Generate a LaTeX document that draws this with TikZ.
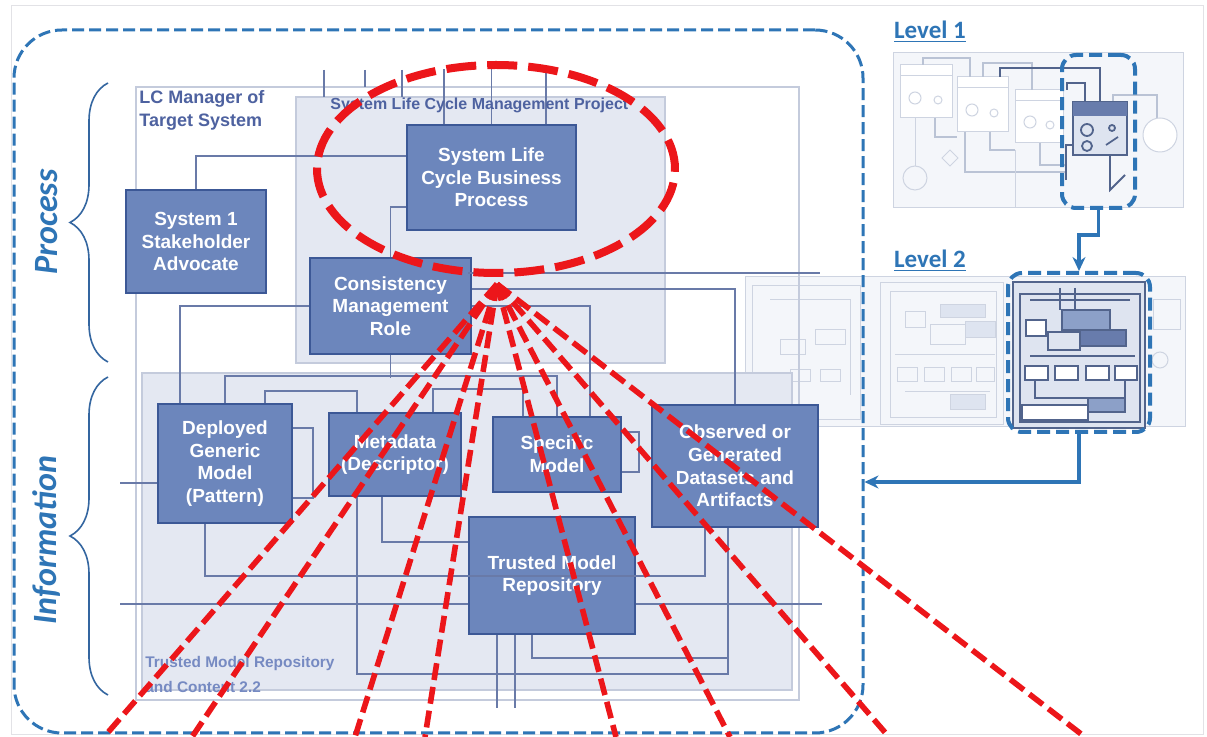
\documentclass[tikz,border=0pt]{standalone}
\usepackage{fontspec}
\setmainfont{Liberation Sans}
\newfontfamily\calibri{Carlito}
\usetikzlibrary{arrows.meta, shapes.geometric, decorations.pathreplacing}

\definecolor{boxfill}{RGB}{108,134,188}
\definecolor{boxline}{RGB}{60,88,150}
\definecolor{wire}{RGB}{105,122,168}
\definecolor{areafill}{RGB}{228,232,242}
\definecolor{frameline}{RGB}{196,203,220}
\definecolor{dashblue}{RGB}{46,117,182}
\definecolor{bracecol}{RGB}{52,102,160}
\definecolor{hotred}{RGB}{236,22,26}
\definecolor{labelblue}{RGB}{78,98,160}
\definecolor{paleblue}{RGB}{118,138,194}
\definecolor{pageline}{RGB}{226,226,230}
\definecolor{thumbfill}{RGB}{244,246,250}
\definecolor{thumbline}{RGB}{206,212,225}
\definecolor{thumbarrow}{RGB}{186,195,213}
\definecolor{thumbdark}{RGB}{82,100,140}
\definecolor{thumbpale}{RGB}{222,228,240}
\definecolor{thumbhead}{RGB}{104,124,172}
\definecolor{thumbmid}{RGB}{140,160,200}

\begin{document}
\begin{tikzpicture}[x = 0.5pt, y = -0.5pt]
\tikzstyle{BoxStyle}=[draw = boxline, fill = boxfill, line width = 1pt,
                      text = white, align = center, inner sep = 1pt,
                      font = \bfseries\fontsize{9.5}{11.3}\selectfont]
\tikzstyle{WireStyle}=[draw = wire, line width = 0.65pt]
\tikzstyle{FrameStyle}=[draw = frameline, line width = 0.6pt]
\tikzstyle{RedStyle}=[draw = hotred, line width = 2.8pt, dash pattern = on 8.5pt off 3.5pt]
\tikzstyle{ThumbStyle}=[draw = thumbline, line width = 0.5pt]
\tikzstyle{ThumbArrow}=[draw = thumbarrow, line width = 1.2pt]
\tikzstyle{ThumbDark}=[draw = thumbdark, line width = 0.9pt]
\tikzstyle{LevelBox}=[draw = dashblue, line width = 2pt, dash pattern = on 6.5pt off 3pt,
                      rounded corners = 7pt, inner sep = 0pt]
\tikzstyle{BlueArrow}=[draw = dashblue, line width = 1.6pt, -{Stealth[length = 7pt, width = 6.5pt]}]
\tikzstyle{SideLabel}=[text = dashblue, rotate = 90,
                       font = \calibri\bfseries\itshape\fontsize{17}{20}\selectfont]
\tikzstyle{LevelLabel}=[text = dashblue, font = \calibri\bfseries\fontsize{12.5}{14}\selectfont]

\useasboundingbox (0,0) rectangle (1207,737);
\fill[white] (0,0) rectangle (1207,737);
\draw[draw = pageline, line width = 0.5pt] (11,6) rectangle (1203,735);

% level 1 thumbnail
\draw[ThumbStyle, fill = thumbfill] (893,53) rectangle (1183,208);
\draw[ThumbStyle, fill = white] (900,65) rectangle (952,118);
\draw[ThumbStyle] (900,76) -- (952,76);
\draw[ThumbStyle] (915,98) circle (6);
\draw[ThumbStyle] (938,100) circle (4);
\draw[ThumbStyle, fill = white] (957,77) rectangle (1008,132);
\draw[ThumbStyle] (957,88) -- (1008,88);
\draw[ThumbStyle] (972,110) circle (6);
\draw[ThumbStyle] (994,113) circle (4);
\draw[ThumbStyle, fill = white] (1015,90) rectangle (1063,143);
\draw[ThumbStyle] (1015,101) -- (1063,101);
\draw[ThumbStyle] (1030,122) circle (6);
\draw[ThumbStyle] (1050,125) circle (4);
\draw[ThumbArrow] (923,65) -- (923,58) -- (970,58) -- (970,77);
\draw[ThumbArrow] (983,77) -- (983,63) -- (1032,63) -- (1032,90);
\draw[ThumbArrow] (1113,102) -- (1113,95) -- (1157,95) -- (1157,118);
\draw[ThumbArrow] (935,118) -- (935,137) -- (957,137);
\draw[ThumbArrow] (990,132) -- (990,150) -- (1015,150);
\draw[ThumbArrow] (1040,143) -- (1040,165) -- (1066,165);
\draw[ThumbArrow] (965,132) -- (965,172) -- (1066,172);
\draw[ThumbStyle] (915,118) -- (915,166);
\draw[ThumbStyle] (1015,150) -- (1015,208);
\draw[ThumbStyle] (915,178) circle (12);
\draw[ThumbStyle, fill = white] (1160,135) circle (17);
\draw[ThumbStyle] (950,150) -- (958,158) -- (950,166) -- (942,158) -- cycle;
\draw[ThumbDark, line width = 1.3pt] (1000,77) -- (1000,68) -- (1100,68) -- (1100,102);
\draw[ThumbDark] (1067,90) -- (1067,83) -- (1085,83) -- (1085,102);
\draw[ThumbDark, fill = thumbpale] (1073,102) rectangle (1127,155);
\fill[thumbhead] (1073,102) rectangle (1127,116);
\draw[ThumbDark] (1087,130) circle (6);
\draw[ThumbDark] (1087,146) circle (5);
\draw[ThumbDark] (1112,128) circle (3);
\draw[ThumbDark] (1106,145) -- (1118,137);
\draw[ThumbDark] (1073,145) -- (1066,145) -- (1066,180);
\draw[ThumbDark] (1110,155) -- (1110,190) -- (1125,175);

% level 2 thumbnail
\draw[ThumbStyle, fill = thumbfill] (745,277) rectangle (1185,427);
\draw[ThumbStyle] (752,286) rectangle (860,420);
\draw[ThumbStyle] (770,300) -- (850,300) -- (850,395);
\draw[ThumbStyle] (780,340) rectangle (805,355);
\draw[ThumbStyle] (815,330) rectangle (845,345);
\draw[ThumbStyle] (790,370) rectangle (810,382);
\draw[ThumbStyle] (820,370) rectangle (840,382);
\draw[ThumbStyle] (880,283) rectangle (1003,425);
\draw[ThumbStyle] (890,292) rectangle (996,418);
\draw[ThumbStyle, fill = thumbpale] (940,305) rectangle (985,318);
\draw[ThumbStyle] (905,312) rectangle (925,328);
\draw[ThumbStyle] (930,325) rectangle (965,345);
\draw[ThumbStyle, fill = thumbpale] (965,322) rectangle (995,338);
\draw[ThumbStyle] (895,355) -- (995,355);
\draw[ThumbStyle] (897,368) rectangle (917,382);
\draw[ThumbStyle] (924,368) rectangle (944,382);
\draw[ThumbStyle] (951,368) rectangle (971,382);
\draw[ThumbStyle] (976,368) rectangle (994,382);
\draw[ThumbStyle] (905,392) -- (990,392);
\draw[ThumbStyle, fill = thumbpale] (950,395) rectangle (985,410);
\draw[ThumbDark, fill = thumbpale] (1013,282) rectangle (1145,428);
\draw[ThumbDark] (1020,294) rectangle (1140,422);
\draw[ThumbDark] (1030,300) -- (1130,300);
\draw[ThumbDark] (1060,288) -- (1060,310);
\draw[ThumbDark] (1075,288) -- (1075,310);
\draw[ThumbDark, fill = thumbmid] (1062,310) rectangle (1110,330);
\draw[ThumbDark, fill = white] (1026,320) rectangle (1046,336);
\draw[ThumbDark, fill = thumbpale] (1048,332) rectangle (1080,350);
\draw[ThumbDark, fill = thumbhead] (1080,330) rectangle (1126,346);
\draw[ThumbDark] (1030,356) -- (1135,356);
\draw[ThumbDark, fill = white] (1025,366) rectangle (1048,380);
\draw[ThumbDark, fill = white] (1055,366) rectangle (1078,380);
\draw[ThumbDark, fill = white] (1086,366) rectangle (1109,380);
\draw[ThumbDark, fill = white] (1115,366) rectangle (1137,380);
\draw[ThumbDark] (1035,380) -- (1035,398) -- (1125,398) -- (1125,380);
\draw[ThumbDark, fill = thumbmid] (1088,398) rectangle (1125,412);
\draw[ThumbDark, fill = white] (1022,405) rectangle (1088,420);
\draw[ThumbStyle] (1153,300) rectangle (1180,330);
\draw[ThumbStyle] (1160,360) circle (8);

% frames
\draw[FrameStyle] (136,87) rectangle (799,700);
\draw[FrameStyle, fill = areafill] (296,97) rectangle (665,363);
\draw[FrameStyle, fill = areafill] (142,373) rectangle (792,690);

% boxes
\node[BoxStyle, minimum width = 70pt, minimum height = 51.5pt] (v0) at (196,241.5) {System 1\\Stakeholder\\Advocate};
\node[BoxStyle, minimum width = 84.5pt, minimum height = 52.5pt] (v1) at (491.5,177.5) {System Life\\Cycle Business\\Process};
\node[BoxStyle, minimum width = 80.5pt, minimum height = 48pt] (v2) at (390.5,306) {Consistency\\Management\\Role};
\node[BoxStyle, minimum width = 67pt, minimum height = 59.5pt] (v3) at (225,463.5) {Deployed\\Generic\\Model\\(Pattern)};
\node[BoxStyle, minimum width = 66pt, minimum height = 41.5pt] (v4) at (395,454.5) {Metadata\\(Descriptor)};
\node[BoxStyle, minimum width = 64pt, minimum height = 37.5pt] (v5) at (557,454.5) {Specific\\Model};
\node[BoxStyle, minimum width = 83pt, minimum height = 61pt] (v6) at (735,466) {Observed or\\Generated\\Datasets and\\Artifacts};
\node[BoxStyle, minimum width = 83pt, minimum height = 58.5pt] (v7) at (552,575.5) {Trusted Model\\Repository};

% wires
\coordinate (c0) at (468,273);
\coordinate (c1) at (820,273);
\coordinate (c2) at (120,604);
\coordinate (c3) at (822,604);
\coordinate (c4) at (120,483);
\draw[WireStyle] (324,70) -- (324,97);
\draw[WireStyle] (365,70) -- (365,87);
\draw[WireStyle] (402,70) -- (402,97);
\draw[WireStyle] ([xshift = -23.75pt]v1.north) -- ++(0,-55);
\draw[WireStyle] (v1.north) -- ++(0,-55);
\draw[WireStyle] ([xshift = 27.25pt]v1.north) -- ++(0,-55);
\draw[WireStyle] (v0.north) |- ([yshift = 10.75pt]v1.west);
\draw[WireStyle] ([yshift = -14.75pt]v1.west) -| (v2.north);
\draw[WireStyle] (v2.west) -| ([xshift = -22.5pt]v3.north);
\draw[WireStyle] (v2.east) -| ([xshift = 16.5pt]v5.north);
\draw[WireStyle] ([yshift = 8.5pt]v2.east) -| (v6.north);
\draw[WireStyle] (c0) -- (c1);
\draw[WireStyle] (v3.north) -- ++(0,-27) -| (v5.north);
\draw[WireStyle] (v2.south) -- ++(0,23);
\draw[WireStyle] ([xshift = 20pt]v3.north) -- ++(0,-12) -| ([xshift = -19pt]v4.north);
\draw[WireStyle] ([xshift = 19pt]v4.north) -- ++(0,-23) -| ([xshift = -17pt]v5.north);
\draw[WireStyle] ([yshift = 17.75pt]v3.east) -- ++(20,0) |- ([yshift = -17.25pt]v3.east);
\draw[WireStyle] ([yshift = 11.25pt]v5.east) -- ++(17,0) |- ([yshift = -8.75pt]v5.east);
\draw[WireStyle] ([xshift = -10pt]v3.south) -- ++(0,52) -| ([xshift = -15pt]v6.south);
\draw[WireStyle] (c2) -- ([yshift = -14.25pt]v7.west);
\draw[WireStyle] ([yshift = -14.25pt]v7.east) -- (c3);
\draw[WireStyle] (c4) -- ([yshift = -9.75pt]v3.west);
\draw[WireStyle] ([xshift = -6.5pt]v4.south) |- ([yshift = 16.75pt]v7.west);
\draw[WireStyle] ([xshift = -19pt]v4.south) -- ++(0,177) -| ([xshift = -3.5pt]v6.south);
\draw[WireStyle] ([xshift = -10pt]v7.south) -- ++(0,23) -- ++(196,0);
\draw[WireStyle] ([xshift = -27.5pt]v7.south) -- ++(0,73);
\draw[WireStyle] ([xshift = -18.5pt]v7.south) -- ++(0,73);

% frame titles
\node[anchor = north west, align = left, text = labelblue, inner sep = 0pt,
      font = \bfseries\fontsize{9}{11.5}\selectfont] (t0) at (139,90) {LC Manager of\\Target System};
\node[anchor = west, text = labelblue, inner sep = 0pt,
      font = \bfseries\fontsize{8}{10}\selectfont] (t1) at (330,105) {System Life Cycle Management Project};
\node[anchor = north west, align = left, text = paleblue, inner sep = 0pt,
      font = \bfseries\fontsize{7.7}{12.5}\selectfont] (t2) at (145,656) {Trusted Model Repository\\and Content 2.2};

% side braces
\node[SideLabel] (t3) at (47,222) {Process};
\node[SideLabel] (t4) at (47,540) {Information};
\draw[draw = bracecol, line width = 0.8pt, decorate, decoration = {brace, amplitude = 19pt}] (108,362) -- (108,83);
\draw[draw = bracecol, line width = 0.8pt, decorate, decoration = {brace, amplitude = 19pt}] (108,695) -- (108,377);

% zoom frame and levels
\node[draw = dashblue, line width = 1.5pt, dash pattern = on 6pt off 2.5pt, rounded corners = 24pt,
      minimum width = 424.5pt, minimum height = 351.5pt, inner sep = 0pt] (m0) at (438.5,381.5) {};
\node[LevelBox, minimum width = 36.5pt, minimum height = 76.5pt] (l1) at (1098.5,131.5) {};
\node[LevelBox, minimum width = 71pt, minimum height = 79.5pt] (l2) at (1079,352.5) {};
\node[LevelLabel] (t5) at (930,32) {\underline{Level 1}};
\node[LevelLabel] (t6) at (930,261) {\underline{Level 2}};
\draw[BlueArrow] (l1.south) -- ++(0,25) -| (l2.north);
\draw[BlueArrow] (l2.south) |- ([yshift = -50.25pt]m0.east);

% focus ellipse and fan
\node[draw = hotred, ellipse, line width = 4pt, dash pattern = on 15pt off 5.5pt,
      minimum width = 179pt, minimum height = 104pt, inner sep = 0pt] (e0) at (496,169) {};
\coordinate (a0) at (497,284);
\coordinate (r0) at (104,737);
\coordinate (r1) at (192,737);
\coordinate (r2) at (355,737);
\coordinate (r3) at (425,737);
\coordinate (r4) at (616,737);
\coordinate (r5) at (730,737);
\coordinate (r6) at (889,737);
\coordinate (r7) at (1085,737);
\draw[RedStyle] (a0) -- (r0);
\draw[RedStyle] (a0) -- (r1);
\draw[RedStyle] (a0) -- (r2);
\draw[RedStyle] (a0) -- (r3);
\draw[RedStyle] (a0) -- (r4);
\draw[RedStyle] (a0) -- (r5);
\draw[RedStyle] (a0) -- (r6);
\draw[RedStyle] (a0) -- (r7);
\end{tikzpicture}
\end{document}
